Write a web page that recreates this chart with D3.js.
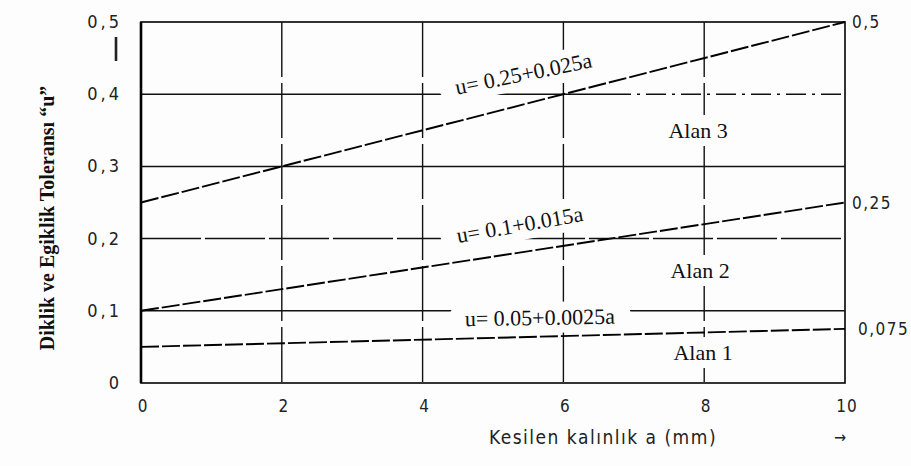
<!DOCTYPE html>
<html><head><meta charset="utf-8">
<script src="https://cdn.jsdelivr.net/npm/d3@7"></script>
<style>body{margin:0;background:#fdfdfe}</style>
</head><body>
<script>
// ---- data ----
const xTicks = [0, 2, 4, 6, 8, 10];
const xTickLabels = ["0", "2", "4", "6", "8", "10"];
const yTicks = [0, 0.1, 0.2, 0.3, 0.4, 0.5];
const yTickLabels = ["0", "0,1", "0,2", "0,3", "0,4", "0,5"];
const lineX = [0, 10];
const line1 = [0.05, 0.075];   // u = 0.05 + 0.0025a
const line2 = [0.1, 0.25];     // u = 0.1 + 0.015a
const line3 = [0.25, 0.5];     // u = 0.25 + 0.025a
const formulas = ["u= 0.05+0.0025a", "u= 0.1+0.015a", "u= 0.25+0.025a"];
const rightLabels = ["0,075", "0,25", "0,5"];
const rightValues = [0.075, 0.25, 0.5];
const areaLabels = ["Alan 1", "Alan 2", "Alan 3"];
const xTitle = "Kesilen kalınlık a (mm)";
const yTitle = "Diklik ve Egiklik Toleransı “u”";

// ---- drawing ----
const W = 911, H = 466;
const svg = d3.select("body").append("svg").attr("width", W).attr("height", H);
const x = d3.scaleLinear().domain([0, 10]).range([141, 845]);
const y = d3.scaleLinear().domain([0, 0.5]).range([383, 22]);
const sans = "'DejaVu Sans Condensed','Liberation Sans',sans-serif";
const serif = "'Liberation Serif','DejaVu Serif',serif";
const bg = "#fdfdfe";

// grid
const g = svg.append("g").attr("stroke", "#111").attr("fill", "none");
g.selectAll("line.h").data(yTicks.filter(d => d > 0 && d < 0.5)).join("line")
  .attr("x1", x(0)).attr("x2", x(10)).attr("y1", d => y(d)).attr("y2", d => y(d))
  .attr("stroke-width", 1.5)
  .attr("stroke-dasharray", (d, i) => i === 1 ? "60,4" : (i === 3 ? "470,0,20,6,3,6,20,6,3,6,20,6,3,6,20,6,3,6,20,6,3,6,20,6,3,6,20,6,3,6,20,6" : null));
g.selectAll("line.v").data(xTicks.filter(d => d > 0 && d < 10)).join("line")
  .attr("x1", d => x(d)).attr("x2", d => x(d)).attr("y1", y(0.5)).attr("y2", y(0))
  .attr("stroke-width", 1.4).attr("stroke-dasharray", "55,6");
// frame
g.append("rect").attr("x", x(0)).attr("y", y(0.5)).attr("width", x(10) - x(0)).attr("height", y(0) - y(0.5))
  .attr("stroke-width", 1.7);
svg.append("line").attr("x1", x(0)).attr("x2", x(0)).attr("y1", y(0.5)).attr("y2", y(0))
  .attr("stroke", "#000").attr("stroke-width", 2.6);
svg.append("line").attr("x1", 116).attr("x2", 116).attr("y1", 37).attr("y2", 61)
  .attr("stroke", "#222").attr("stroke-width", 2.6);

// tick labels
svg.append("g").selectAll("text").data(xTicks).join("text")
  .attr("x", d => x(d) + 2).attr("y", 412).attr("text-anchor", "middle")
  .attr("font-family", sans).attr("font-size", 17).attr("letter-spacing", 1).attr("fill", "#222")
  .text((d, i) => xTickLabels[i]);
svg.append("g").selectAll("text").data(yTicks).join("text")
  .attr("x", 122).attr("y", d => y(d) + 6).attr("text-anchor", "end")
  .attr("font-family", sans).attr("font-size", 18).attr("letter-spacing", 3).attr("fill", "#222")
  .text((d, i) => yTickLabels[i]);
svg.append("g").selectAll("text").data(rightValues).join("text")
  .attr("x", (d, i) => i === 0 ? 858 : 852).attr("y", d => y(d) + 6)
  .attr("font-family", sans).attr("font-size", 17).attr("letter-spacing", 1.5).attr("fill", "#222")
  .text((d, i) => rightLabels[i]);

// label with white blob behind
function blobLabel(t, cx, cy, rot, size, padX, padY) {
  const grp = svg.append("g").attr("transform", `translate(${cx},${cy}) rotate(${rot})`);
  const bgRect = grp.append("rect").attr("fill", bg);
  const txt = grp.append("text").attr("text-anchor", "middle").attr("font-family", serif)
    .attr("font-size", size).attr("fill", "#111").text(t);
  const b = txt.node().getBBox();
  bgRect.attr("x", b.x - padX).attr("y", b.y - padY).attr("width", b.width + 2 * padX)
    .attr("height", b.height + 2 * padY).attr("rx", (b.height + 2 * padY) / 2);
  return grp;
}

// formula labels backgrounds drawn before lines so lines stay visible
const fpos = [[540, 325, -1], [521, 232, -10], [525, 81, -11.5]];
formulas.forEach((t, i) => blobLabel(t, fpos[i][0], fpos[i][1], fpos[i][2], 22, 16, 3));

// formula lines
const lineGen = d3.line().x(d => x(d[0])).y(d => y(d[1]));
[line1, line2, line3].forEach(vals => {
  svg.append("path").datum(lineX.map((a, i) => [a, vals[i]]))
    .attr("d", lineGen).attr("fill", "none").attr("stroke", "#000")
    .attr("stroke-width", 1.9).attr("stroke-dasharray", "18,3");
});

// area labels
const apos = [[703, 360], [700, 278], [698, 138]];
areaLabels.forEach((t, i) => blobLabel(t, apos[i][0], apos[i][1], 0, 22, 12, 3));

// axis titles
svg.append("text").attr("x", 603).attr("y", 444).attr("text-anchor", "middle")
  .attr("font-family", sans).attr("font-size", 19).attr("letter-spacing", 1.5).attr("fill", "#222").text(xTitle);
svg.append("text").attr("x", 840).attr("y", 443).attr("text-anchor", "middle")
  .attr("font-family", sans).attr("font-size", 16).attr("fill", "#222").text("→");
svg.append("text").attr("transform", "translate(54,218) rotate(-90)").attr("text-anchor", "middle")
  .attr("font-family", serif).attr("font-size", 20).attr("font-weight", "bold").attr("fill", "#111").text(yTitle);
</script>
</body></html>
